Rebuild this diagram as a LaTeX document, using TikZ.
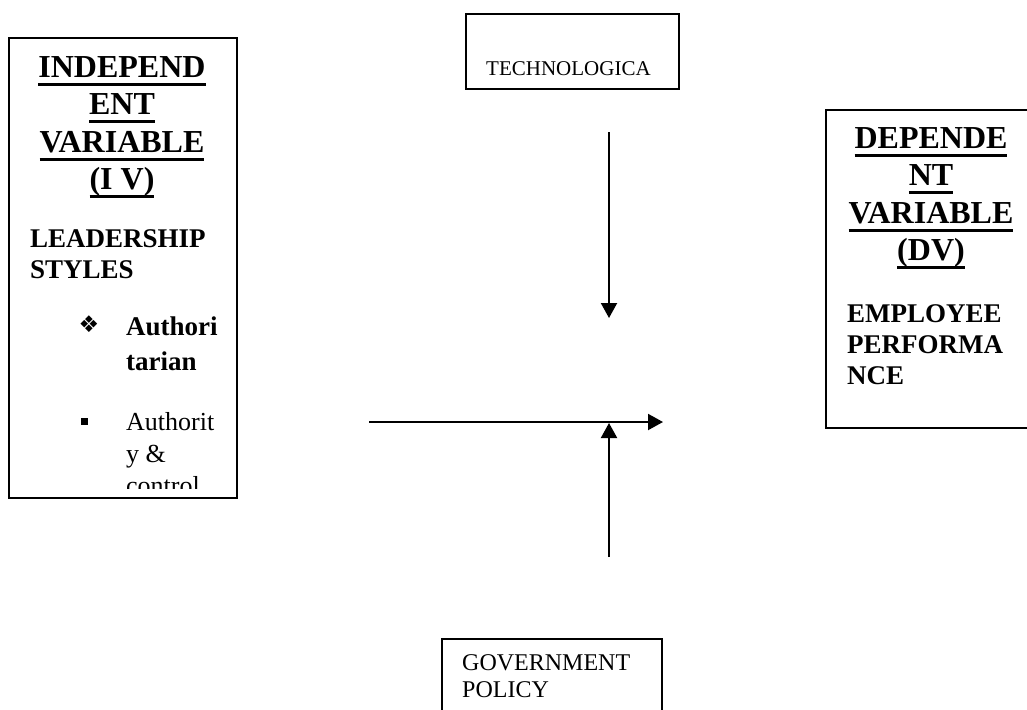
\documentclass[tikz,border=0pt]{standalone}
\usepackage{fontspec}
\setmainfont{Liberation Serif}
\newfontfamily\dingfont{DejaVu Sans}
\usetikzlibrary{arrows.meta}

\newcommand{\ulined}[1]{\setbox0\hbox{#1}\rlap{\vrule width\wd0 height -5.5pt depth 8.5pt}\box0}

\begin{document}
\begin{tikzpicture}
    [
    x = 1pt,
    y = -1pt,
    box/.style              = {draw, line width=1.6pt, inner sep=0pt, anchor=north west},
    title/.style            = {font=\fontsize{32}{37.5}\selectfont\bfseries, align=center, inner sep=0pt, anchor=base},
    heading/.style          = {font=\fontsize{27}{31}\selectfont\bfseries, align=left, inner sep=0pt, anchor=base west},
    plain/.style            = {align=left, inner sep=0pt, anchor=base west},
    link/.style             = {line width=2pt, -{Triangle[length=15pt, width=16pt]}}
    ]
    \useasboundingbox (0,0) rectangle (1027,709);
    \clip (0,0) rectangle (1027,709);

    \node [box, minimum width=228pt, minimum height=460pt] (ivbox) at (8,37) {};
    \begin{scope}
        \clip (8,37) rectangle (236,488);
        \node [title] (ivtitle) at (122,189.5)
            {\ulined{INDEPEND}\\ \ulined{ENT}\\ \ulined{VARIABLE}\\ \ulined{(I V)}};
        \node [heading] (ivname) at (30,278) {LEADERSHIP\\STYLES};
        \node [inner sep=0pt, font=\dingfont\fontsize{23}{23}\selectfont] (bulletone) at (89,324) {❖};
        \node [plain, font=\fontsize{27}{35}\selectfont\bfseries] (itemone) at (126,370) {Authori\\tarian};
        \node [inner sep=0pt] (bullettwo) at (84,421) {\rule{7pt}{7pt}};
        \node [plain, font=\fontsize{26}{32}\selectfont] (itemtwo) at (126,494) {Authorit\\y \&\\control};
    \end{scope}

    \node [box, minimum width=212pt, minimum height=318pt] (dvbox) at (825,109) {};
    \node [title] (dvtitle) at (931,260.5)
        {\ulined{DEPENDE}\\ \ulined{NT}\\ \ulined{VARIABLE}\\ \ulined{(DV)}};
    \node [heading] (dvname) at (847,384) {EMPLOYEE\\PERFORMA\\NCE};

    \node [box, minimum width=213pt, minimum height=75pt] (techbox) at (465,13) {};
    \node [plain, font=\fontsize{21}{25}\selectfont] (techname) at (486,75) {TECHNOLOGICA};

    \node [box, minimum width=220pt, minimum height=90pt] (govbox) at (441,638) {};
    \node [plain, font=\fontsize{24}{27}\selectfont] (govname) at (462,697) {GOVERNMENT\\POLICY};

    \coordinate (techend) at (609,132);
    \coordinate (techtip) at (609,318);
    \coordinate (ivend) at (369,422);
    \coordinate (dvtip) at (663,422);
    \coordinate (govend) at (609,557);
    \coordinate (govtip) at (609,423);

    \draw [link] (techend) -- (techtip);
    \draw [link] (ivend) -- (dvtip);
    \draw [link] (govend) -- (govtip);
\end{tikzpicture}
\end{document}
